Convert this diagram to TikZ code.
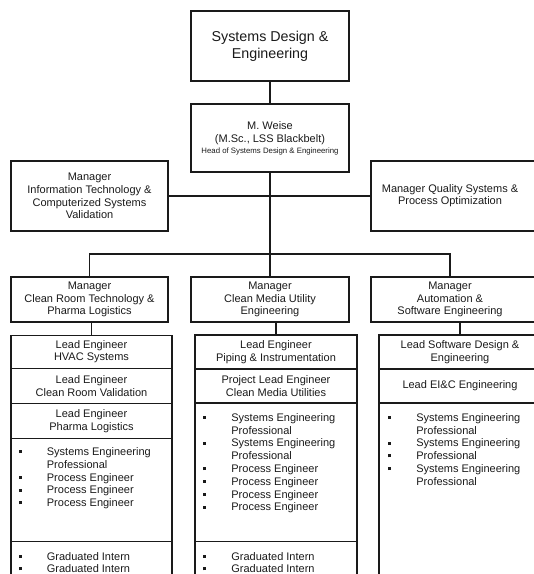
\documentclass[tikz,border=0pt]{standalone}
\usepackage{fontspec}
\setmainfont{Liberation Sans}
\usetikzlibrary{positioning,calc}
\definecolor{sdInk}{HTML}{1A1A1A}
\newcommand{\sdbul}{\rule[2.4pt]{3pt}{3pt}}
\newcommand{\sdlist}[1]{\begin{tabular}[t]{@{}p{28.2pt}@{}l@{}}#1\end{tabular}}

\begin{document}
\begin{tikzpicture}[x=1pt, y=-1pt,
  bx/.style={draw=sdInk, line width=1.1pt, align=center, inner sep=1pt, text=sdInk, font=\fontsize{11}{12.8}\selectfont},
  txt/.style={align=center, inner sep=0pt, text=sdInk, font=\fontsize{11}{12.8}\selectfont},
  lst/.style={anchor=base west, inner sep=0pt, text=sdInk, font=\fontsize{11}{12.8}\selectfont},
  ln/.style={draw=sdInk, line width=1.1pt}]
\useasboundingbox (0,0) rectangle (534,574);
% top of the chart
\node[bx, font=\fontsize{14.3}{16.8}\selectfont, minimum width=158pt, minimum height=70pt] (sde) at (270,46) {Systems Design \&\\Engineering};
\node[bx, minimum width=158pt, minimum height=68pt] (head) at (270,138)
  {M. Weise\\(M.Sc., LSS Blackbelt)\\[-1.8pt]{\fontsize{7.8}{10}\selectfont Head of Systems Design \& Engineering}};
\node[bx, minimum width=157pt, minimum height=70pt] (it) at (89.5,196) {Manager\\Information Technology \&\\Computerized Systems\\Validation};
\node[bx, minimum width=170pt, minimum height=70pt] (qs) at (456,196) {};
\node[txt] (qst) at (450,195.6) {Manager Quality Systems \&\\Process Optimization};

% managers
\node[bx, minimum width=157pt, minimum height=45pt] (cr) at (89.5,299.5) {Manager\\Clean Room Technology \&\\Pharma Logistics};
\node[bx, minimum width=158pt, minimum height=45pt] (cm) at (270,299.5) {Manager\\Clean Media Utility\\Engineering};
\node[bx, minimum width=170pt, minimum height=45pt] (as) at (456,299.5) {};
\node[txt] (ast) at (450,299.5) {Manager\\Automation \&\\Software Engineering};

% left column
\node[bx, minimum width=161pt, minimum height=33.3pt] (la) at (91.5,351.7) {Lead Engineer\\HVAC Systems};
\node[bx, minimum width=161pt, minimum height=35pt] (lb) at (91.5,385.8) {Lead Engineer\\Clean Room Validation};
\node[bx, minimum width=161pt, minimum height=35pt] (lc) at (91.5,420.8) {Lead Engineer\\Pharma Logistics};
\node[bx, minimum width=161pt, minimum height=103.4pt] (ld) at (91.5,490) {};
\node[bx, minimum width=161pt, minimum height=48.6pt] (le) at (91.5,566) {};
\node[lst] (ldl) at (18.5,455.5) {\sdlist{\sdbul & Systems Engineering\\ & Professional\\ \sdbul & Process Engineer\\ \sdbul & Process Engineer\\ \sdbul & Process Engineer}};
\node[lst] (lel) at (18.5,560) {\sdlist{\sdbul & Graduated Intern\\ \sdbul & Graduated Intern}};

% middle column
\node[bx, minimum width=162pt, minimum height=34pt] (ma) at (276,352) {Lead Engineer\\Piping \& Instrumentation};
\node[bx, minimum width=162pt, minimum height=34pt] (mb) at (276,386) {Project Lead Engineer\\Clean Media Utilities};
\node[bx, minimum width=162pt, minimum height=138.7pt] (mc) at (276,472.35) {};
\node[bx, minimum width=162pt, minimum height=48.6pt] (md) at (276,566) {};
\node[lst] (mcl) at (203,421.3) {\sdlist{\sdbul & Systems Engineering\\ & Professional\\ \sdbul & Systems Engineering\\ & Professional\\ \sdbul & Process Engineer\\ \sdbul & Process Engineer\\ \sdbul & Process Engineer\\ \sdbul & Process Engineer}};
\node[lst] (mdl) at (203,560) {\sdlist{\sdbul & Graduated Intern\\ \sdbul & Graduated Intern}};

% right column
\node[bx, minimum width=162pt, minimum height=34pt] (ra) at (460,352) {Lead Software Design \&\\Engineering};
\node[bx, minimum width=162pt, minimum height=34pt] (rb) at (460,386) {Lead EI\&C Engineering};
\node[bx, minimum width=162pt, minimum height=187pt] (rc) at (460,496.5) {};
\node[lst] (rcl) at (388,421.3) {\sdlist{\sdbul & Systems Engineering\\ & Professional\\ \sdbul & Systems Engineering\\ \sdbul & Professional\\ \sdbul & Systems Engineering\\ & Professional}};

% connectors
\coordinate (jn) at (270,254);
\draw[ln] (sde) -- (head);
\draw[ln] (head) -- (jn);
\draw[ln] (it) -- (qs);
\draw[ln] (jn) -| (cr.north);
\draw[ln] (jn) -- (cm);
\draw[ln] (jn) -| (ast |- as.north);
\foreach \m/\l in {cr/la,cm/ma,as/ra}{\draw[ln] (\l.north) -- (\l.north |- \m.south);}
\end{tikzpicture}
\end{document}
